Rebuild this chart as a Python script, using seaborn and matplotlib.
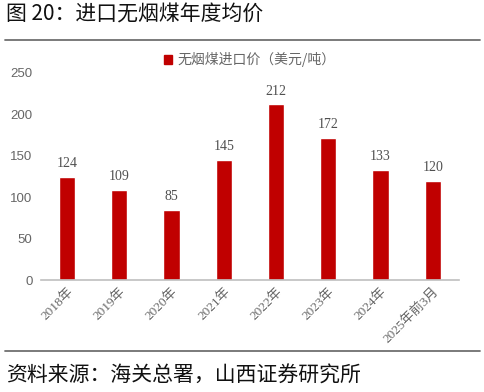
import matplotlib
matplotlib.use("Agg")
import matplotlib.pyplot as plt
import seaborn as sns
import pandas as pd
from matplotlib.lines import Line2D
from matplotlib.patches import Patch

categories = ["2018年", "2019年", "2020年", "2021年", "2022年", "2023年", "2024年", "2025年前3月"]
values = [124, 109, 85, 145, 212, 172, 133, 120]
series_name = "无烟煤进口价（美元/吨）"
yticks = [0, 50, 100, 150, 200, 250]

sns.set_theme(style="white")
plt.rcParams['font.family'] = ['Liberation Serif', 'Noto Sans CJK SC', 'DejaVu Sans']

df = pd.DataFrame({"cat": categories, "val": values})

fig = plt.figure(figsize=(4.85, 3.92), dpi=100)
ax = fig.add_axes([0.0845, 0.2857, 0.8615, 0.5281])

sns.barplot(data=df, x="cat", y="val", color="#C00000", width=0.31, ax=ax, saturation=1)

ax.set_ylim(0, 250)
ax.set_xlim(-0.5, len(categories) - 0.5)
ax.set_yticks(yticks)
ax.set_yticklabels([str(t) for t in yticks], color="#666666", fontsize=9.5,
                   family=['Liberation Sans'])
ax.set_xlabel("")
ax.set_ylabel("")
ax.set_xticks(range(len(categories)))
ax.set_xticklabels(categories, rotation=45, ha="right", rotation_mode="anchor",
                   color="#666666", fontsize=9.5, family=['Liberation Serif', 'Noto Sans CJK SC'])
ax.tick_params(axis="both", length=0, pad=6)
ax.tick_params(axis="x", pad=4)
for s in ["top", "right", "left"]:
    ax.spines[s].set_visible(False)
ax.spines["bottom"].set_color("#BFBFBF")
ax.spines["bottom"].set_linewidth(1.2)

for c in ax.containers:
    ax.bar_label(c, labels=[str(v) for v in values], padding=5, color="#505050",
                 fontsize=10, family=['Liberation Serif'])

leg = ax.legend(handles=[Patch(color="#C00000", label=series_name)],
                loc="upper center", bbox_to_anchor=(0.5, 1.16), frameon=False,
                handlelength=0.6, handleheight=0.6, handletextpad=0.4,
                prop={"family": ["Noto Sans CJK SC"], "size": 10})
for t in leg.get_texts():
    t.set_color("#666666")

fig.text(0.012, 0.963, "图 20：进口无烟煤年度均价", fontsize=15, va="center", ha="left",
         family=['Noto Sans CJK SC'], color="#111111")
fig.add_artist(Line2D([0.01, 0.99], [1 - 40 / 392, 1 - 40 / 392], color="#707070", lw=1.3,
                      transform=fig.transFigure))
fig.add_artist(Line2D([0.01, 0.99], [1 - 351 / 392, 1 - 351 / 392], color="#707070", lw=1.3,
                      transform=fig.transFigure))
fig.text(0.012, 1 - 376 / 392, "资料来源：海关总署，山西证券研究所", fontsize=15, va="center",
         ha="left", family=['Noto Sans CJK SC'], color="#111111")

fig.savefig("out.png", dpi=100)
